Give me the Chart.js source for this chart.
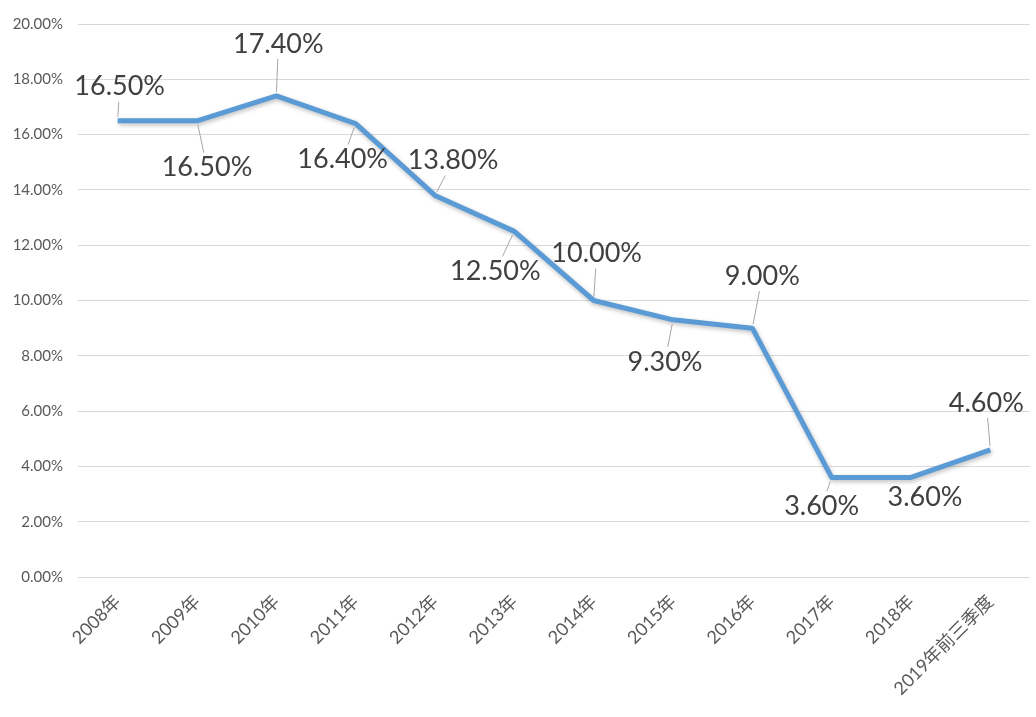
<!DOCTYPE html>
<html>
<head>
<meta charset="utf-8">
<script src="https://cdn.jsdelivr.net/npm/chart.js@4.4.1/dist/chart.umd.min.js"></script>
<style>
  html, body { margin: 0; padding: 0; background: #fff; }
  #wrap { width: 1036px; height: 717px; }
</style>
</head>
<body>
<div id="wrap"><canvas id="chart"></canvas></div>
<script>
// categorías y valores (%)
const categories = ['2008年', '2009年', '2010年', '2011年', '2012年', '2013年',
  '2014年', '2015年', '2016年', '2017年', '2018年', '2019年前三季度'];
const values = [16.5, 16.5, 17.4, 16.4, 13.8, 12.5, 10.0, 9.3, 9.0, 3.6, 3.6, 4.6];
const yTicks = [0, 2, 4, 6, 8, 10, 12, 14, 16, 18, 20];

// desplazamiento de cada etiqueta respecto a su punto (px)
const labelOffsets = [
  [2, -34], [10, 47], [2, -52], [-13, 36], [18, -35], [-19, 40],
  [3, -47], [-8, 42], [10, -52], [-10, 29], [14, 20], [-4, -47]
];

// plugin: sombra suave bajo la línea
const lineShadow = {
  id: 'lineShadow',
  beforeDatasetsDraw(chart) {
    const ctx = chart.ctx;
    ctx.save();
    ctx.shadowColor = 'rgba(0,0,0,0.25)';
    ctx.shadowBlur = 4;
    ctx.shadowOffsetX = 1;
    ctx.shadowOffsetY = 2;
  },
  afterDatasetsDraw(chart) {
    chart.ctx.restore();
  }
};

// plugin: etiquetas con líneas guía
const leaderLabels = {
  id: 'leaderLabels',
  afterDatasetsDraw(chart) {
    const ctx = chart.ctx;
    const meta = chart.getDatasetMeta(0);
    ctx.save();
    ctx.font = '27px Lato, "Open Sans", sans-serif';
    ctx.textAlign = 'center';
    ctx.textBaseline = 'middle';
    meta.data.forEach((pt, i) => {
      const [dx, dy] = labelOffsets[i];
      const lx = pt.x + dx, ly = pt.y + dy;
      const len = Math.hypot(dx, dy);
      const hw = 48, hh = 15;
      const t = Math.min(dx ? hw / Math.abs(dx) : 99, dy ? hh / Math.abs(dy) : 99);
      const ex = pt.x + dx * (1 - t), ey = pt.y + dy * (1 - t);
      const sx = pt.x + dx / len * 4, sy = pt.y + dy / len * 4;
      if (Math.hypot(ex - sx, ey - sy) > 5) {
        ctx.strokeStyle = '#a6a6a6';
        ctx.lineWidth = 1;
        ctx.beginPath();
        ctx.moveTo(sx, sy);
        ctx.lineTo(ex, ey);
        ctx.stroke();
      }
      ctx.fillStyle = '#404040';
      ctx.fillText(values[i].toFixed(2) + '%', lx, ly);
    });
    ctx.restore();
  }
};

new Chart(document.getElementById('chart'), {
  type: 'line',
  data: {
    labels: categories,
    datasets: [{
      data: values,
      borderColor: '#5b9bd5',
      borderWidth: 5,
      pointRadius: 0,
      tension: 0,
      borderJoinStyle: 'round'
    }]
  },
  options: {
    responsive: true,
    maintainAspectRatio: false,
    animation: false,
    layout: { padding: { top: 21, right: 6, left: 0, bottom: 0 } },
    plugins: { legend: { display: false }, tooltip: { enabled: false } },
    scales: {
      x: {
        offset: true,
        grid: { display: false, drawTicks: false },
        border: { display: false },
        ticks: {
          color: '#595959',
          font: { family: 'Lato, "Noto Sans CJK SC", sans-serif', size: 18 },
          maxRotation: 45,
          minRotation: 45,
          padding: 14,
          autoSkip: false
        },
        afterFit(scale) { scale.height = 140; }
      },
      y: {
        min: 0,
        max: 20,
        afterBuildTicks(scale) { scale.ticks = yTicks.map(v => ({ value: v })); },
        grid: { color: '#d9d9d9', drawTicks: false },
        border: { display: false },
        ticks: {
          color: '#595959',
          font: { family: 'Lato, sans-serif', size: 15 },
          padding: 15,
          callback: v => v.toFixed(2) + '%'
        },
        afterFit(scale) { scale.width = 78; }
      }
    }
  },
  plugins: [lineShadow, leaderLabels]
});
</script>
</body>
</html>
